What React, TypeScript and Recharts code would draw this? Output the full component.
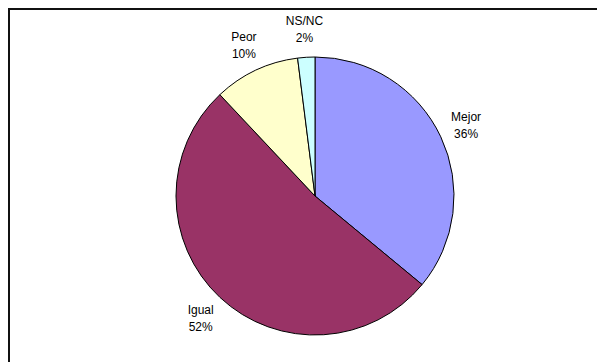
import { PieChart, Pie, Cell } from "recharts";

const categories = ["Mejor", "Igual", "Peor", "NS/NC"];
const shares = [36, 52, 10, 2];
const colors = ["#9999FF", "#993366", "#FFFFCC", "#CCFFFF"];

const data = categories.map((name, i) => ({ name, value: shares[i] }));

const RADIAN = Math.PI / 180;

function renderLabel(props: any) {
  const { cx, cy, midAngle, outerRadius, name, value } = props;
  const r = outerRadius + 28;
  const x = cx + r * Math.cos(-midAngle * RADIAN);
  const y = cy + r * Math.sin(-midAngle * RADIAN);
  return (
    <text
      x={x}
      y={y}
      textAnchor="middle"
      fill="#000"
      fontSize={12}
      fontFamily="'Liberation Sans', Arial, sans-serif"
    >
      <tspan x={x} y={y - 4}>
        {name}
      </tspan>
      <tspan x={x} y={y + 13}>
        {`${value}%`}
      </tspan>
    </text>
  );
}

export default function App() {
  return (
    <div
      style={{
        width: 595,
        height: 352,
        borderTop: "2px solid #111",
        borderLeft: "2px solid #111",
        background: "#fff",
      }}
    >
      <PieChart width={595} height={352} margin={{ top: 0, right: 0, bottom: 0, left: 0 }}>
        <Pie
          data={data}
          dataKey="value"
          nameKey="name"
          cx={305}
          cy={186}
          outerRadius={139}
          startAngle={90}
          endAngle={-270}
          stroke="#000"
          strokeWidth={1}
          label={renderLabel}
          labelLine={false}
          isAnimationActive={false}
        >
          {data.map((d, i) => (
            <Cell key={d.name} fill={colors[i]} />
          ))}
        </Pie>
      </PieChart>
    </div>
  );
}
